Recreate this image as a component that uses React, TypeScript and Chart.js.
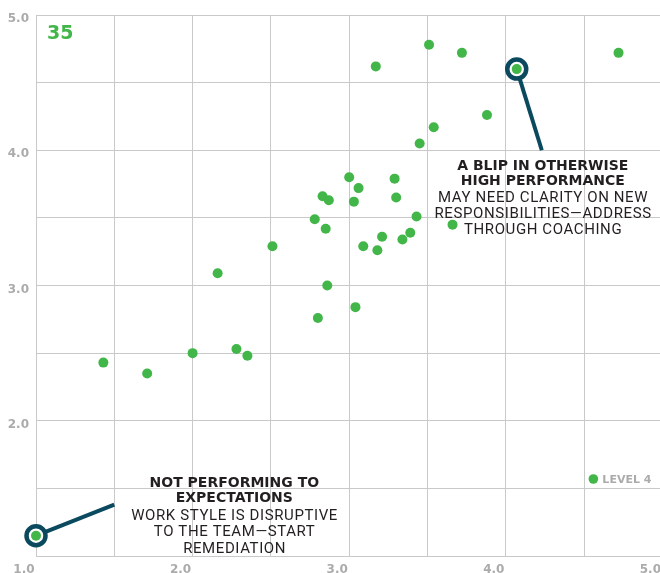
import React, { useEffect, useRef } from "react";
import { Chart, registerables } from "chart.js";

Chart.register(...registerables);

// ---- data ----
const pointX = [1.43, 1.71, 2.0, 2.16, 2.28, 2.35, 2.51, 2.78, 2.8, 2.83, 2.85, 2.87, 2.86, 3.0, 3.03, 3.06, 3.04, 3.09, 3.17, 3.18, 3.21, 3.29, 3.3, 3.34, 3.39, 3.43, 3.45, 3.51, 3.54, 3.66, 3.72, 3.88, 4.07, 4.72, 1.0];
const pointY = [2.43, 2.35, 2.5, 3.09, 2.53, 2.48, 3.29, 3.49, 2.76, 3.66, 3.42, 3.63, 3.0, 3.8, 3.62, 3.72, 2.84, 3.29, 4.62, 3.26, 3.36, 3.79, 3.65, 3.34, 3.39, 3.51, 4.05, 4.78, 4.17, 3.45, 4.72, 4.26, 4.6, 4.72, 1.15];
const highlightX = [4.07, 1.0];
const highlightY = [4.6, 1.15];
const connectorEndX = [4.23, 1.5];
const connectorEndY = [4.0, 1.38];
const xTickLabels = ["1.0", "2.0", "3.0", "4.0", "5.0"];
const yTickLabels = ["2.0", "3.0", "4.0", "5.0"];
const countLabel = "35";
const legendLabel = "LEVEL 4";
const topHeading = ["A BLIP IN OTHERWISE", "HIGH PERFORMANCE"];
const topBody = ["MAY NEED CLARITY ON NEW", "RESPONSIBILITIES—ADDRESS", "THROUGH COACHING"];
const bottomHeading = ["NOT PERFORMING TO", "EXPECTATIONS"];
const bottomBody = ["WORK STYLE IS DISRUPTIVE", "TO THE TEAM—START", "REMEDIATION"];

// ---- styles ----
const GREEN = "#42b649";
const RING = "#0b4a5e";
const INK = "#231f20";
const GRAY = "#ababab";
const GRID = "#c9c9c9";
const HEAD_FONT = "bold 14px 'DejaVu Sans', sans-serif";
const BODY_FONT = "400 15px Roboto, 'Noto Sans', sans-serif";

const annotations = [
  { heading: topHeading, body: topBody, dx: 1, headDy: [15, 30], bodyDy: [46.7, 62.7, 78] },
  { heading: bottomHeading, body: bottomBody, dx: 120, headDy: [-22.6, -7.3], bodyDy: [9.7, 26.4, 42.7] },
];

const annotPlugin = {
  id: "annot",
  beforeDatasetsDraw(chart: any) {
    const { ctx, scales } = chart;
    const xs = scales.x, ys = scales.y;
    ctx.save();
    ctx.strokeStyle = RING;
    ctx.lineWidth = 4;
    for (let i = 0; i < highlightX.length; i++) {
      ctx.beginPath();
      ctx.moveTo(xs.getPixelForValue(highlightX[i]), ys.getPixelForValue(highlightY[i]));
      ctx.lineTo(xs.getPixelForValue(connectorEndX[i]), ys.getPixelForValue(connectorEndY[i]));
      ctx.stroke();
    }
    ctx.restore();
  },
  afterDatasetsDraw(chart: any) {
    const { ctx, scales, chartArea } = chart;
    const xs = scales.x, ys = scales.y;
    ctx.save();
    ctx.textAlign = "center";
    ctx.textBaseline = "alphabetic";
    annotations.forEach((a, i) => {
      const ex = xs.getPixelForValue(connectorEndX[i]);
      const ey = ys.getPixelForValue(connectorEndY[i]);
      ctx.fillStyle = INK;
      ctx.font = HEAD_FONT;
      (ctx as any).letterSpacing = "0px";
      a.heading.forEach((t, j) => ctx.fillText(t, ex + a.dx, ey + a.headDy[j] + 5));
      ctx.font = BODY_FONT;
      (ctx as any).letterSpacing = "0.6px";
      a.body.forEach((t, j) => ctx.fillText(t, ex + a.dx + 0.3, ey + a.bodyDy[j] + 5.3));
    });
    (ctx as any).letterSpacing = "0px";
    // count label
    ctx.textAlign = "left";
    ctx.fillStyle = GREEN;
    ctx.font = "bold 19px 'DejaVu Sans', sans-serif";
    ctx.fillText(countLabel, chartArea.left + 11, chartArea.top + 24);
    // legend
    const lx = chartArea.right - 69;
    const ly = chartArea.bottom - 77;
    ctx.beginPath();
    ctx.arc(lx, ly, 4.8, 0, Math.PI * 2);
    ctx.fill();
    ctx.fillStyle = GRAY;
    ctx.font = "bold 11px 'DejaVu Sans', sans-serif";
    ctx.fillText(legendLabel, lx + 9, ly + 4);
    ctx.restore();
  },
};

export default function App() {
  const ref = useRef<HTMLCanvasElement>(null);
  useEffect(() => {
    document.body.style.overflow = "hidden";
    const canvas = ref.current!;
    const tickFont = { family: "'DejaVu Sans'", weight: "bold" as const, size: 12 };
    const chart = new Chart(canvas, {
      type: "scatter",
      data: {
        datasets: [
          {
            data: pointX.map((x, i) => ({ x, y: pointY[i] })),
            backgroundColor: GREEN,
            borderWidth: 0,
            pointRadius: 5,
            order: 0,
            clip: false,
          },
          {
            data: highlightX.map((x, i) => ({ x, y: highlightY[i] })),
            backgroundColor: "#ffffff",
            borderColor: RING,
            borderWidth: 4.5,
            pointRadius: 9.5,
            order: 1,
            clip: false,
          },
        ],
      },
      options: {
        animation: false,
        responsive: false,
        events: [],
        layout: { padding: { top: 15, right: 15, left: 0, bottom: 0 } },
        plugins: { legend: { display: false }, tooltip: { enabled: false } },
        scales: {
          x: {
            type: "linear",
            min: 1,
            max: 5,
            afterFit: (s: any) => { s.height = 17; },
            grid: { color: GRID, drawTicks: false, lineWidth: 1 },
            border: { display: true, color: GRID },
            ticks: {
              stepSize: 0.5,
              autoSkip: false,
              maxRotation: 0,
              padding: 7,
              labelOffset: -12,
              color: GRAY,
              font: tickFont,
              callback: (v: any) => (xTickLabels.includes(Number(v).toFixed(1)) ? Number(v).toFixed(1) : ""),
            },
          },
          y: {
            type: "linear",
            min: 1,
            max: 5,
            afterFit: (s: any) => { s.width = 36; },
            grid: { color: GRID, drawTicks: false, lineWidth: 1 },
            border: { display: true, color: GRID },
            ticks: {
              stepSize: 0.5,
              autoSkip: false,
              padding: 7,
              labelOffset: 4,
              color: GRAY,
              font: tickFont,
              callback: (v: any) => (yTickLabels.includes(Number(v).toFixed(1)) ? Number(v).toFixed(1) : ""),
            },
          },
        },
      },
      plugins: [annotPlugin],
    });
    return () => chart.destroy();
  }, []);
  return (
    <div style={{ position: "fixed", left: 0, top: 0, width: 680, height: 573 }}>
      <canvas ref={ref} width={680} height={573} style={{ width: 680, height: 573, display: "block" }} />
    </div>
  );
}
